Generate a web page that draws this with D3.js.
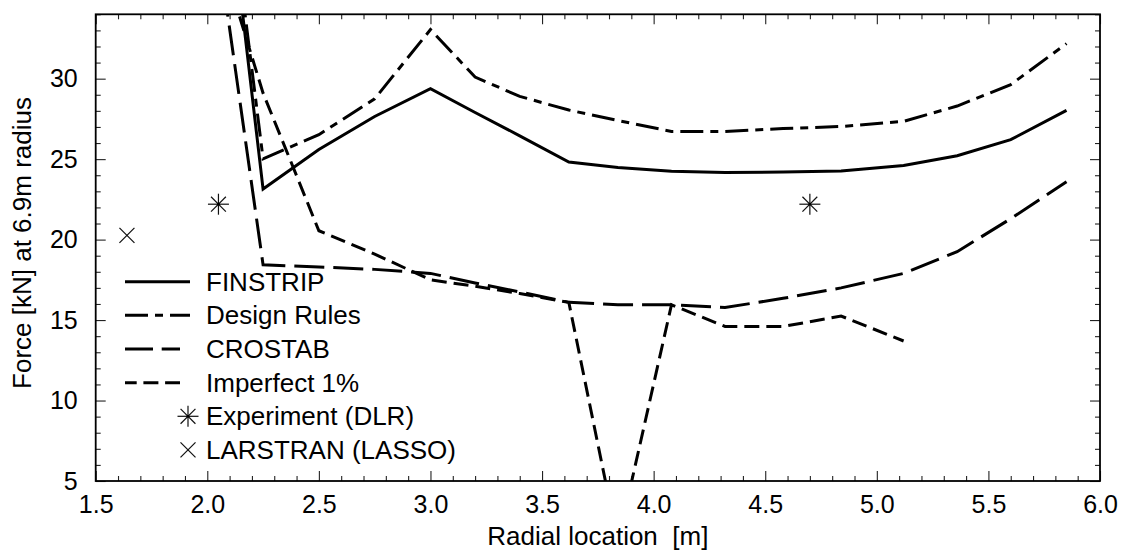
<!DOCTYPE html>
<html>
<head>
<meta charset="utf-8">
<script src="https://cdn.jsdelivr.net/npm/d3@7"></script>
<style>
  html, body { margin: 0; padding: 0; background: #fff; }
  svg { display: block; font-family: "Liberation Sans", Arial, Helvetica, sans-serif; }
</style>
</head>
<body>
<svg id="chart" width="1129" height="552"></svg>
<script>
// Radial stations [m]
const radial = [2.0, 2.25, 2.5, 2.75, 3.0, 3.2, 3.4, 3.62, 3.84, 4.08, 4.32, 4.58, 4.84, 5.12, 5.36, 5.6, 5.85];

// Force [kN] at 6.9 m radius
const finstrip    = [52.8, 23.14, 25.6, 27.65, 29.38, 27.9, 26.45, 24.82, 24.48, 24.24, 24.17, 24.2, 24.26, 24.61, 25.21, 26.21, 28.03];
const designRules = [52.8, 25.02, 26.52, 28.75, 33.05, 30.1, 28.9, 28.05, 27.4, 26.72, 26.72, 26.9, 27.03, 27.35, 28.3, 29.63, 32.18];
const crostab     = [42.9, 18.43, 18.3, 18.15, 17.9, 17.3, 16.75, 16.1, 15.95, 15.95, 15.78, 16.35, 17.0, 17.9, 19.25, 21.3, 23.6];

// Imperfect 1% stops at 5.12 m
const imperfectX  = [2.0, 2.25, 2.5, 2.75, 3.0, 3.2, 3.4, 3.62, 3.84, 4.08, 4.32, 4.58, 4.84, 5.12];
const imperfect   = [40.4, 29.1, 20.55, 19.1, 17.5, 17.1, 16.65, 16.1, 1.2, 15.95, 14.6, 14.6, 15.25, 13.7];

// Single measurements
const experimentX = [2.05, 4.7];
const experimentY = [22.2, 22.2];
const larstranX   = [1.64];
const larstranY   = [20.26];

// Axes
const xDomain = [1.5, 6.0];
const yDomain = [5, 34];
const xMajor = [1.5, 2.0, 2.5, 3.0, 3.5, 4.0, 4.5, 5.0, 5.5, 6.0];
const yMajor = [5, 10, 15, 20, 25, 30];

const legendLabels = ["FINSTRIP", "Design Rules", "CROSTAB", "Imperfect 1%", "Experiment (DLR)", "LARSTRAN (LASSO)"];

const svg = d3.select("#chart");
const plot = { left: 95.7, right: 1100, top: 14.3, bottom: 481 };

const x = d3.scaleLinear().domain(xDomain).range([plot.left, plot.right]);
const y = d3.scaleLinear().domain(yDomain).range([plot.bottom, plot.top]);

const xMinor = d3.range(15, 61).map(v => v / 10).filter(v => !xMajor.some(m => Math.abs(m - v) < 1e-9));
const yMinor = d3.range(yDomain[0], yDomain[1] + 1).filter(v => v % 5 !== 0);

const FONT = 25;

// clip region for the curves
svg.append("defs").append("clipPath").attr("id", "plotClip")
  .append("rect")
  .attr("x", plot.left).attr("y", plot.top)
  .attr("width", plot.right - plot.left).attr("height", plot.bottom - plot.top);

function styleAxis(g) {
  g.select(".domain").remove();
  g.selectAll(".tick line").attr("stroke", "#222").attr("stroke-width", 1.1);
  g.selectAll(".tick text").attr("fill", "#000").attr("font-size", FONT).attr("font-family", "Liberation Sans, Arial, sans-serif");
}

// bottom axis with labels
svg.append("g").attr("transform", `translate(0,${plot.bottom})`)
  .call(d3.axisBottom(x).tickValues(xMajor).tickSize(-10).tickPadding(14).tickFormat(d3.format(".1f")))
  .call(styleAxis);
svg.append("g").attr("transform", `translate(0,${plot.bottom})`)
  .call(d3.axisBottom(x).tickValues(xMinor).tickSize(-5).tickFormat(""))
  .call(styleAxis);
// top axis (ticks only)
svg.append("g").attr("transform", `translate(0,${plot.top})`)
  .call(d3.axisTop(x).tickValues(xMajor).tickSize(-10).tickFormat(""))
  .call(styleAxis);
svg.append("g").attr("transform", `translate(0,${plot.top})`)
  .call(d3.axisTop(x).tickValues(xMinor).tickSize(-5).tickFormat(""))
  .call(styleAxis);
// left axis with labels
svg.append("g").attr("transform", `translate(${plot.left},0)`)
  .call(d3.axisLeft(y).tickValues(yMajor).tickSize(-10).tickPadding(18).tickFormat(d3.format("d")))
  .call(styleAxis);
svg.append("g").attr("transform", `translate(${plot.left},0)`)
  .call(d3.axisLeft(y).tickValues(yMinor).tickSize(-5).tickFormat(""))
  .call(styleAxis);
// right axis (ticks only)
svg.append("g").attr("transform", `translate(${plot.right},0)`)
  .call(d3.axisRight(y).tickValues(yMajor).tickSize(-10).tickFormat(""))
  .call(styleAxis);
svg.append("g").attr("transform", `translate(${plot.right},0)`)
  .call(d3.axisRight(y).tickValues(yMinor).tickSize(-5).tickFormat(""))
  .call(styleAxis);

// frame
svg.append("rect")
  .attr("x", plot.left).attr("y", plot.top)
  .attr("width", plot.right - plot.left).attr("height", plot.bottom - plot.top)
  .attr("fill", "none").attr("stroke", "#000").attr("stroke-width", 1.8);

// axis titles
svg.append("text")
  .attr("x", (plot.left + plot.right) / 2).attr("y", 545)
  .attr("text-anchor", "middle").attr("font-size", 26)
  .style("white-space", "pre")
  .text("Radial location  [m]");
svg.append("text")
  .attr("transform", "translate(31,243) rotate(-90)")
  .attr("text-anchor", "middle").attr("font-size", 26)
  .text("Force [kN] at 6.9m radius");

// curves
const styles = [
  { dash: null },
  { dash: "23,7,8,7" },
  { dash: "30,9" },
  { dash: "15,7" }
];
const seriesList = [
  { xs: radial, ys: finstrip, s: styles[0] },
  { xs: radial, ys: designRules, s: styles[1] },
  { xs: radial, ys: crostab, s: styles[2] },
  { xs: imperfectX, ys: imperfect, s: styles[3] }
];
const line = d3.line().x(d => x(d[0])).y(d => y(d[1]));
const curves = svg.append("g").attr("clip-path", "url(#plotClip)");
seriesList.forEach(se => {
  curves.append("path")
    .datum(d3.zip(se.xs, se.ys))
    .attr("d", line)
    .attr("fill", "none").attr("stroke", "#000").attr("stroke-width", 3)
    .attr("stroke-linejoin", "miter")
    .attr("stroke-dasharray", se.s.dash);
});

// markers
function asterisk(g, cx, cy, r) {
  [0, 45, 90, 135].forEach(a => {
    const t = a * Math.PI / 180;
    g.append("line")
      .attr("x1", cx - r * Math.cos(t)).attr("y1", cy - r * Math.sin(t))
      .attr("x2", cx + r * Math.cos(t)).attr("y2", cy + r * Math.sin(t))
      .attr("stroke", "#111").attr("stroke-width", 1.2);
  });
  g.append("circle").attr("cx", cx).attr("cy", cy).attr("r", 1.4).attr("fill", "#000");
}
function cross(g, cx, cy, r) {
  [[-1, -1, 1, 1], [-1, 1, 1, -1]].forEach(c => {
    g.append("line")
      .attr("x1", cx + c[0] * r).attr("y1", cy + c[1] * r)
      .attr("x2", cx + c[2] * r).attr("y2", cy + c[3] * r)
      .attr("stroke", "#111").attr("stroke-width", 1.2);
  });
}
const marks = svg.append("g");
d3.zip(experimentX, experimentY).forEach(d => asterisk(marks, x(d[0]), y(d[1]), 10.5));
d3.zip(larstranX, larstranY).forEach(d => cross(marks, x(d[0]), y(d[1]), 7.5));

// legend
const legend = svg.append("g");
const rowY = i => 281.7 + i * 33.65;
const legendLines = [
  { x2: 190, dash: null, off: 0 },
  { x2: 190, dash: "23,7,8,7", off: 0 },
  { x2: 180, dash: "28,8.7", off: 0 },
  { x2: 180, dash: "15,6.7", off: 3.3 }
];
legendLines.forEach((l, i) => {
  legend.append("line")
    .attr("x1", 125).attr("x2", l.x2).attr("y1", rowY(i)).attr("y2", rowY(i))
    .attr("stroke", "#000").attr("stroke-width", 3)
    .attr("stroke-dasharray", l.dash).attr("stroke-dashoffset", l.off);
});
asterisk(legend, 188, rowY(4), 10.5);
cross(legend, 188, rowY(5), 7.5);
legendLabels.forEach((t, i) => {
  legend.append("text")
    .attr("x", 206).attr("y", rowY(i) + 9)
    .attr("font-size", 26).text(t);
});
</script>
</body>
</html>
